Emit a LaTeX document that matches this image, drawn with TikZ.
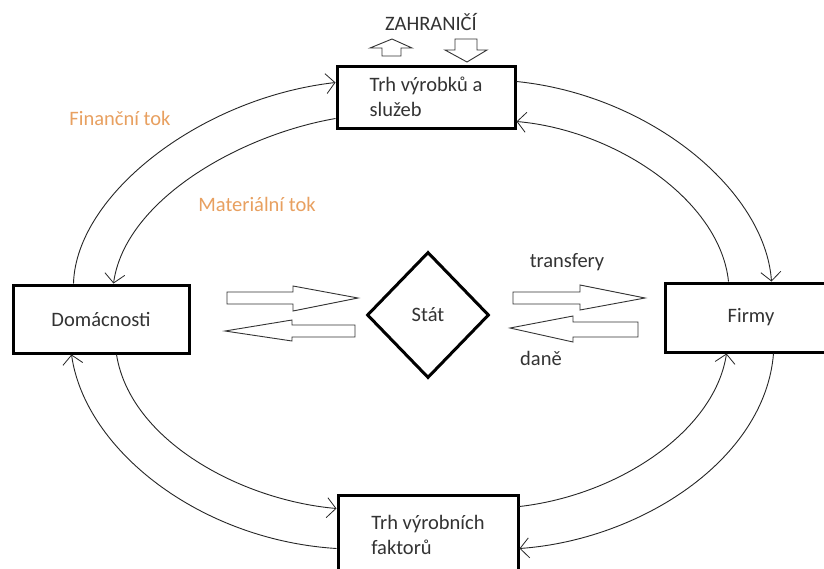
\documentclass[tikz,border=0pt]{standalone}
\usepackage{fontspec}
\setmainfont{Carlito}
\usetikzlibrary{shapes.geometric,arrows.meta,calc}
\definecolor{flowtxt}{HTML}{E8A060}
\begin{document}
\begin{tikzpicture}[x=1pt,y=-1pt,
  font=\fontsize{20.5}{25}\selectfont,
  box/.style={draw=black,line width=3pt,rectangle,inner sep=0pt,align=left,text=black!80},
  flow/.style={draw=black!85,line width=0.9pt,-{Straight Barb[length=9pt,width=20pt,line width=0.8pt]}},
  blockarrow/.style={draw=black!80,line width=0.9pt,fill=white,line join=miter},
  lbl/.style={inner sep=0pt,text=black!80},
  flowlbl/.style={inner sep=0pt,text=flowtxt}]
\useasboundingbox (0,0) rectangle (824,568);
\fill[white] (0,0) rectangle (824,568);

% boxes
\node[box,minimum width=178pt,minimum height=62pt] (trh1) at (426,97) {Trh výrobků a\\služeb};
\node[box,minimum width=176pt,minimum height=68pt] (dom) at (101,319) {Domácnosti};
\node[box,minimum width=172pt,minimum height=69pt] (firmy) at (751,317.5) {Firmy};
\node[box,minimum width=180pt,minimum height=80pt] (trh2) at (428,535) {Trh výrobních\\faktorů};
\node[draw=black,line width=3pt,diamond,minimum width=122pt,minimum height=126pt,inner sep=0pt,text=black!80] (stat) at (428,315) {Stát};

% labels
\node[lbl] (zahr) at (431,22) {ZAHRANIČÍ};
\node[lbl] (transf) at (567,262) {transfery};
\node[lbl] (dane) at (541,358) {daně};
\node[flowlbl] (fin) at (120,118) {Finanční tok};
\node[flowlbl] (mat) at (257,204) {Materiální tok};

% block arrows
\draw[blockarrow] (382,56) -- (382,48) -- (370,48) -- (392,39) -- (412,48) -- (401,48) -- (401,56) -- cycle;
\draw[blockarrow] (455,39) -- (477,39) -- (477,50) -- (487,50) -- (467,62) -- (445,50) -- (455,50) -- cycle;
\draw[blockarrow] (227,292) -- (293,292) -- (293,286) -- (358,298) -- (293,311) -- (293,304) -- (227,304) -- cycle;
\draw[blockarrow] (355,325) -- (292,325) -- (292,320) -- (225,331) -- (292,341) -- (292,337) -- (355,337) -- cycle;
\draw[blockarrow] (513,292) -- (580,292) -- (580,285) -- (645,298) -- (580,310) -- (580,304) -- (513,304) -- cycle;
\draw[blockarrow] (638,322) -- (573,322) -- (573,316) -- (510,328) -- (573,342) -- (573,337) -- (638,337) -- cycle;

% flows top-left
\draw[flow] ([xshift=62pt]dom.north west) .. controls (76,195) and (200,98) .. ([yshift=-18pt]trh1.north west);
\draw[flow] ([yshift=-54pt]trh1.north west) .. controls (240,135) and (125,200) .. ([xshift=102pt]dom.north west);
% flows top-right
\draw[flow] ([yshift=-17pt]trh1.north east) .. controls (650,95) and (765,190) .. ([xshift=108pt]firmy.north west);
\draw[flow] ([xshift=65pt]firmy.north west) .. controls (720,200) and (615,130) .. ([yshift=-57pt]trh1.north east);
% flows bottom-left
\draw[flow] ([xshift=105pt]dom.south west) .. controls (130,440) and (240,500) .. ([yshift=-15pt]trh2.north west);
\draw[flow] ([yshift=-55pt]trh2.north west) .. controls (200,540) and (85,450) .. ([xshift=60pt]dom.south west);
% flows bottom-right
\draw[flow] ([yshift=-13pt]trh2.north east) .. controls (620,495) and (715,430) .. ([xshift=63pt]firmy.south west);
\draw[flow] ([xshift=110pt]firmy.south west) .. controls (765,460) and (640,540) .. ([yshift=-55pt]trh2.north east);
\end{tikzpicture}
\end{document}
